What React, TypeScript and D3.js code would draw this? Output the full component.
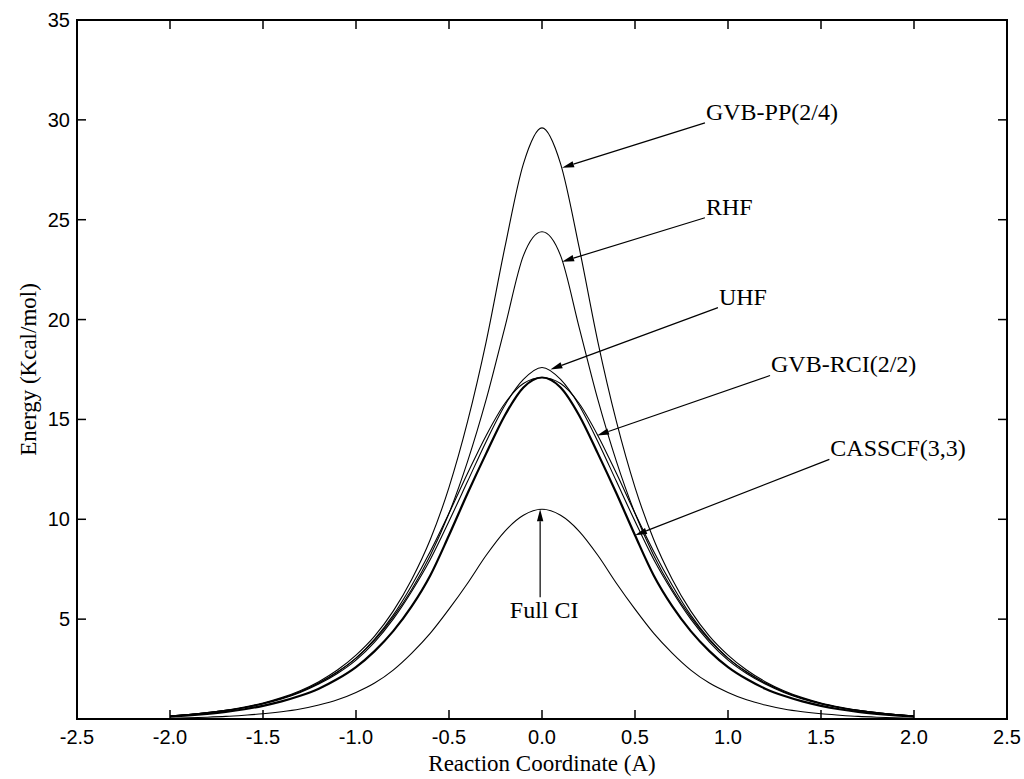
import React from "react";
import * as d3 from "d3";

// Reaction coordinate sample points (A)
const reactionCoord = [
  -2.0, -1.9, -1.8, -1.7, -1.6, -1.5, -1.4, -1.3, -1.2, -1.1, -1.0, -0.9, -0.8, -0.7, -0.6, -0.5, -0.4, -0.3, -0.2, -0.1,
  0.0, 0.1, 0.2, 0.3, 0.4, 0.5, 0.6, 0.7, 0.8, 0.9, 1.0, 1.1, 1.2, 1.3, 1.4, 1.5, 1.6, 1.7, 1.8, 1.9, 2.0,
];

// Energies (Kcal/mol)
const gvbPP = [
  0.15, 0.22, 0.32, 0.44, 0.6, 0.8, 1.07, 1.42, 1.87, 2.45, 3.2, 4.15, 5.4, 7.0, 9.0, 11.6, 14.9, 18.9, 23.6, 27.8,
  29.6, 27.8, 23.6, 18.9, 14.9, 11.6, 9.0, 7.0, 5.4, 4.15, 3.2, 2.45, 1.87, 1.42, 1.07, 0.8, 0.6, 0.44, 0.32, 0.22, 0.15,
];
const rhf = [
  0.15, 0.22, 0.31, 0.43, 0.58, 0.78, 1.04, 1.37, 1.8, 2.35, 3.05, 3.95, 5.1, 6.5, 8.2, 10.3, 12.9, 16.0, 19.6, 23.2,
  24.4, 23.2, 19.6, 16.0, 12.9, 10.3, 8.2, 6.5, 5.1, 3.95, 3.05, 2.35, 1.8, 1.37, 1.04, 0.78, 0.58, 0.43, 0.31, 0.22, 0.15,
];
const uhf = [
  0.14, 0.21, 0.3, 0.41, 0.56, 0.75, 1.0, 1.33, 1.75, 2.28, 2.95, 3.85, 5.0, 6.4, 8.0, 9.9, 11.9, 13.9, 15.7, 17.0,
  17.6, 17.0, 15.7, 13.9, 11.9, 9.9, 8.0, 6.4, 5.0, 3.85, 2.95, 2.28, 1.75, 1.33, 1.0, 0.75, 0.56, 0.41, 0.3, 0.21, 0.14,
];
const gvbRCI = [
  0.15, 0.22, 0.32, 0.43, 0.58, 0.78, 1.03, 1.37, 1.8, 2.35, 3.05, 4.0, 5.2, 6.7, 8.4, 10.3, 12.3, 14.2, 15.8, 16.8,
  17.1, 16.8, 15.8, 14.2, 12.3, 10.3, 8.4, 6.7, 5.2, 4.0, 3.05, 2.35, 1.8, 1.37, 1.03, 0.78, 0.58, 0.43, 0.32, 0.22, 0.15,
];
const casscf = [
  0.12, 0.18, 0.26, 0.36, 0.49, 0.66, 0.88, 1.16, 1.52, 2.0, 2.6, 3.4, 4.4, 5.65, 7.2, 9.2, 11.3, 13.3, 15.2, 16.6,
  17.1, 16.6, 15.2, 13.3, 11.3, 9.2, 7.2, 5.65, 4.4, 3.4, 2.6, 2.0, 1.52, 1.16, 0.88, 0.66, 0.49, 0.36, 0.26, 0.18, 0.12,
];
const fullCI = [
  0.04, 0.06, 0.09, 0.13, 0.19, 0.26, 0.36, 0.5, 0.7, 0.96, 1.33, 1.8, 2.45, 3.3, 4.3, 5.5, 6.8, 8.2, 9.4, 10.2,
  10.5, 10.2, 9.4, 8.2, 6.8, 5.5, 4.3, 3.3, 2.45, 1.8, 1.33, 0.96, 0.7, 0.5, 0.36, 0.26, 0.19, 0.13, 0.09, 0.06, 0.04,
];

const xTicks = [-2.5, -2.0, -1.5, -1.0, -0.5, 0.0, 0.5, 1.0, 1.5, 2.0, 2.5];
const yTicks = [5, 10, 15, 20, 25, 30, 35];

// label names
const labelNames = ["GVB-PP(2/4)", "RHF", "UHF", "GVB-RCI(2/2)", "CASSCF(3,3)", "Full CI"];
// arrow tips (data coords) and tails (data coords)
const tipX = [0.108, 0.108, 0.045, 0.296, 0.5, -0.01];
const tipE = [27.6, 22.9, 17.5, 14.2, 9.2, 10.5];
const tailX = [0.876, 0.876, 0.946, 1.226, 1.545, -0.01];
const tailE = [29.85, 25.1, 20.6, 17.2, 13.0, 6.1];

const W = 1024;
const H = 779;
const L = 77, R = 1007, T = 20, B = 719;

export default function App() {
  const x = d3.scaleLinear().domain([-2.5, 2.5]).range([L, R]);
  const y = d3.scaleLinear().domain([0, 35]).range([B, T]);

  const line = d3
    .line<number>()
    .x((_, i) => x(reactionCoord[i]))
    .y((d) => y(d))
    .curve(d3.curveMonotoneX);

  const series = [
    { name: "GVB-PP(2/4)", values: gvbPP, w: 1.1 },
    { name: "RHF", values: rhf, w: 1.1 },
    { name: "UHF", values: uhf, w: 1.1 },
    { name: "GVB-RCI(2/2)", values: gvbRCI, w: 1.1 },
    { name: "CASSCF(3,3)", values: casscf, w: 2.2 },
    { name: "Full CI", values: fullCI, w: 1.1 },
  ];

  const tickFont = "'Liberation Sans', Arial, Helvetica, sans-serif";
  const serif = "'Liberation Serif', 'Times New Roman', serif";

  const arrows = labelNames.map((name, i) => {
    const x1 = x(tailX[i]);
    const y1 = y(tailE[i]);
    const x2 = x(tipX[i]);
    const y2 = y(tipE[i]);
    const dx = x2 - x1;
    const dy = y2 - y1;
    const len = Math.hypot(dx, dy);
    const ux = dx / len;
    const uy = dy / len;
    const hl = 12;
    const hw = 3.2;
    const bx = x2 - ux * hl;
    const by = y2 - uy * hl;
    const pts = [
      [x2, y2],
      [bx - uy * hw, by + ux * hw],
      [bx + uy * hw, by - ux * hw],
    ];
    return { name, x1, y1, x2, y2, bx, by, pts, i };
  });

  return (
    <svg
      width={W}
      height={H}
      style={{ position: "absolute", left: 0, top: 0, background: "#fff" }}
    >
      <rect x={0} y={0} width={W} height={H} fill="#fff" />
      {/* curves */}
      {series.map((s) => (
        <path
          key={s.name}
          d={line(s.values) || ""}
          fill="none"
          stroke="#000"
          strokeWidth={s.w}
        />
      ))}
      {/* frame */}
      <rect x={L} y={T} width={R - L} height={B - T} fill="none" stroke="#000" strokeWidth={2} />
      {/* x ticks */}
      {xTicks.map((t) => (
        <g key={"xt" + t}>
          <line x1={x(t)} x2={x(t)} y1={B} y2={B - 9} stroke="#000" strokeWidth={1.5} />
          <line x1={x(t)} x2={x(t)} y1={T} y2={T + 9} stroke="#000" strokeWidth={1.5} />
          <text
            x={x(t)}
            y={B + 25}
            textAnchor="middle"
            fontFamily={tickFont}
            fontSize={20}
            fill="#000"
          >
            {t.toFixed(1)}
          </text>
        </g>
      ))}
      {/* y ticks */}
      {yTicks.map((t) => (
        <g key={"yt" + t}>
          <line x1={L} x2={L + 9} y1={y(t)} y2={y(t)} stroke="#000" strokeWidth={1.5} />
          <line x1={R} x2={R - 9} y1={y(t)} y2={y(t)} stroke="#000" strokeWidth={1.5} />
          <text
            x={L - 7}
            y={y(t) + 7}
            textAnchor="end"
            fontFamily={tickFont}
            fontSize={20}
            fill="#000"
          >
            {t}
          </text>
        </g>
      ))}
      {/* axis titles */}
      <text
        x={(L + R) / 2}
        y={771}
        textAnchor="middle"
        fontFamily={serif}
        fontSize={23}
        fill="#000"
      >
        Reaction Coordinate (A)
      </text>
      <text
        transform={`translate(36, ${(T + B) / 2}) rotate(-90)`}
        textAnchor="middle"
        fontFamily={serif}
        fontSize={23}
        fill="#000"
      >
        Energy (Kcal/mol)
      </text>
      {/* annotations */}
      {arrows.map((a) => (
        <g key={a.name}>
          <line x1={a.x1} y1={a.y1} x2={a.bx} y2={a.by} stroke="#000" strokeWidth={1.2} />
          <polygon points={a.pts.map((p) => p.join(",")).join(" ")} fill="#000" />
          {a.name === "Full CI" ? (
            <text
              x={a.x1 + 4}
              y={a.y1 + 21}
              textAnchor="middle"
              fontFamily={serif}
              fontSize={24}
              fill="#000"
            >
              {a.name}
            </text>
          ) : (
            <text
              x={a.x1 + 1}
              y={a.y1 - 3}
              textAnchor="start"
              fontFamily={serif}
              fontSize={24}
              fill="#000"
            >
              {a.name}
            </text>
          )}
        </g>
      ))}
    </svg>
  );
}
